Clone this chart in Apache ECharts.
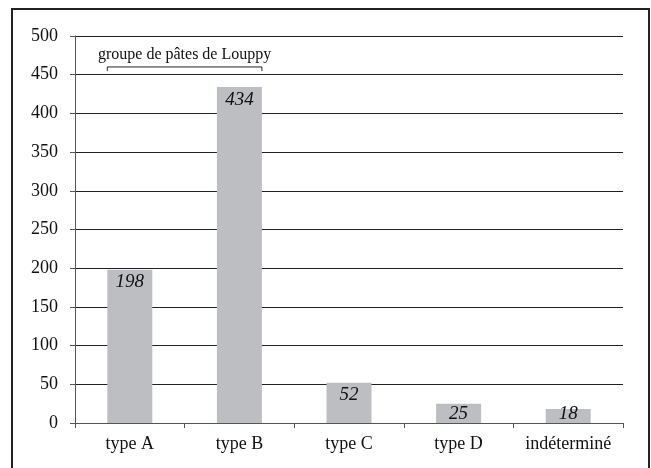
<!DOCTYPE html>
<html>
<head>
<meta charset="utf-8">
<script src="https://cdn.jsdelivr.net/npm/echarts@6/dist/echarts.min.js"></script>
<style>
html,body{margin:0;padding:0;background:#fff;}
#main{width:651px;height:468px;}
</style>
</head>
<body>
<div id="main"></div>
<script>
var categories = ['type A', 'type B', 'type C', 'type D', 'indéterminé'];
var counts = [198, 434, 52, 25, 18];
var yTicks = { min: 0, max: 500, interval: 50 };
var groupLabel = 'groupe de pâtes de Louppy';
var groupCategories = ['type A', 'type B'];

var FONT = "'Liberation Serif', 'Times New Roman', serif";
var BAR_W = 45;

var chart = echarts.init(document.getElementById('main'), null, { renderer: 'canvas' });

var seriesData = counts.map(function (v) {
  var small = v < 40;
  return {
    value: v,
    label: small ? { position: 'insideBottom', distance: 0 } : { position: 'insideTop', distance: 3 }
  };
});

var option = {
  animation: false,
  backgroundColor: '#ffffff',
  grid: { left: 75, right: 28, top: 36, bottom: 45, containLabel: false },
  xAxis: {
    type: 'category',
    data: categories,
    boundaryGap: true,
    axisLine: { show: true, lineStyle: { color: '#555', width: 1 } },
    axisTick: { show: true, length: 5, inside: false, alignWithLabel: false, interval: 0, lineStyle: { color: '#555' } },
    axisLabel: { color: '#111', fontFamily: FONT, fontSize: 18, margin: 12, interval: 0, hideOverlap: false },
    splitLine: { show: false }
  },
  yAxis: {
    type: 'value',
    min: yTicks.min,
    max: yTicks.max,
    interval: yTicks.interval,
    axisLine: { show: true, lineStyle: { color: '#555', width: 1 } },
    axisTick: { show: true, length: 5, lineStyle: { color: '#555' } },
    axisLabel: { color: '#111', fontFamily: FONT, fontSize: 18, margin: 17 },
    splitLine: { show: true, lineStyle: { color: '#222', width: 1 } }
  },
  series: [{
    type: 'bar',
    data: seriesData,
    barWidth: BAR_W,
    itemStyle: { color: '#bdbec2' },
    label: {
      show: true,
      color: '#111',
      fontFamily: FONT,
      fontStyle: 'italic',
      fontSize: 19
    }
  }]
};
chart.setOption(option);

// annotation bracket above the grouped categories, positioned from the axis scale
var pA = chart.convertToPixel({ gridIndex: 0 }, [groupCategories[0], 0]);
var pB = chart.convertToPixel({ gridIndex: 0 }, [groupCategories[1], 0]);
var x1 = pA[0] - BAR_W / 2;
var x2 = pB[0] + BAR_W / 2;
var yBr = chart.convertToPixel({ gridIndex: 0 }, [groupCategories[0], 460])[1];

chart.setOption({
  graphic: [
    {
      type: 'rect',
      shape: { x: 12, y: 9, width: 637, height: 470 },
      style: { fill: 'none', stroke: '#222', lineWidth: 2 },
      silent: true
    },
    {
      type: 'polyline',
      shape: { points: [[x1, yBr + 4], [x1, yBr], [x2, yBr], [x2, yBr + 4]] },
      style: { stroke: '#222', lineWidth: 1, fill: 'none' },
      silent: true
    },
    {
      type: 'text',
      x: (x1 + x2) / 2,
      y: yBr - 4,
      style: {
        text: groupLabel,
        fontFamily: FONT,
        fontSize: 16,
        fill: '#111',
        align: 'center',
        verticalAlign: 'bottom'
      },
      silent: true
    }
  ]
});
</script>
</body>
</html>
